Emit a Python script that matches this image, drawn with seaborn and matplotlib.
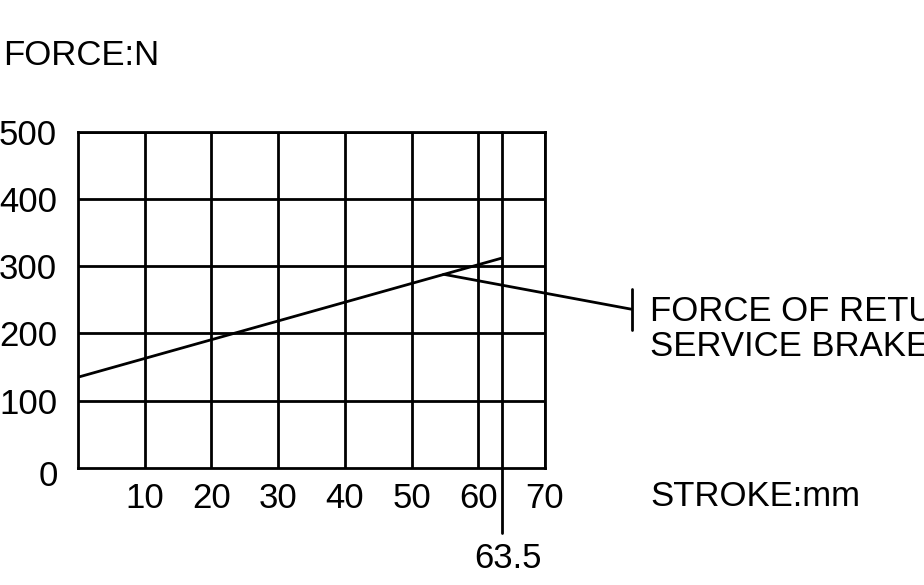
import matplotlib
matplotlib.use("Agg")
import matplotlib.pyplot as plt
import seaborn as sns
import pandas as pd

# values
stroke_mm = [0, 63.5]
force_n = [135, 312]
x_ticks = [10, 20, 30, 40, 50, 60, 70]
y_ticks = [100, 200, 300, 400, 500]
marked_stroke = 63.5
leader_x = [54.8, 83.0]
leader_y = [288, 236]
note_lines = ["FORCE OF RETURN SPRING OF", "SERVICE BRAKE PEDAL"]

sns.set_style("white")
plt.rcParams['font.family'] = ['Liberation Sans', 'DejaVu Sans']
plt.rcParams['text.color'] = 'black'
plt.rcParams['xtick.color'] = 'black'
plt.rcParams['ytick.color'] = 'black'
FS = 25

df = pd.DataFrame({'stroke': stroke_mm, 'force': force_n})

fig = plt.figure(figsize=(9.24, 5.85), dpi=100)
ax = fig.add_axes([78 / 924, 1 - 468 / 585, 467 / 924, 336.3 / 585])

sns.lineplot(data=df, x='stroke', y='force', ax=ax, color='black', linewidth=2)

ax.set_xlim(0, 70)
ax.set_ylim(0, 500)
ax.set_xticks(x_ticks)
ax.set_yticks(y_ticks)
ax.set_xticklabels([str(v) for v in x_ticks], fontsize=FS)
ax.set_yticklabels([str(v) for v in y_ticks], fontsize=FS)
ax.tick_params(length=0, colors='black')
ax.tick_params(axis='x', pad=10)
ax.tick_params(axis='y', pad=15)
ax.set_xlabel('')
ax.set_ylabel('')
ax.grid(True, color='black', linewidth=2)
for sp in ax.spines.values():
    sp.set_color('black')
    sp.set_linewidth(2)

# 63.5 mm marker running below the axis
ax.axvline(marked_stroke, ymin=-0.193, ymax=1, color='black', linewidth=2, clip_on=False)
ax.text(marked_stroke + 1, -135, str(marked_stroke), fontsize=FS, ha='center', va='center')

# leader to the note
ax.plot(leader_x, leader_y, color='black', linewidth=2, clip_on=False)
ax.plot([leader_x[1], leader_x[1]], [205, 266], color='black', linewidth=2, clip_on=False)
ax.text(85.8, 233, note_lines[0], fontsize=FS, ha='left', va='center')
ax.text(85.8, 181, note_lines[1], fontsize=FS, ha='left', va='center')

ax.text(-4.5, -13, '0', fontsize=FS, ha='center', va='center')
ax.text(85.8, -42, 'STROKE:mm', fontsize=FS, ha='left', va='center')
ax.text(-11.2, 614, 'FORCE:N', fontsize=FS, ha='left', va='center')

fig.savefig('out.png', dpi=100)
